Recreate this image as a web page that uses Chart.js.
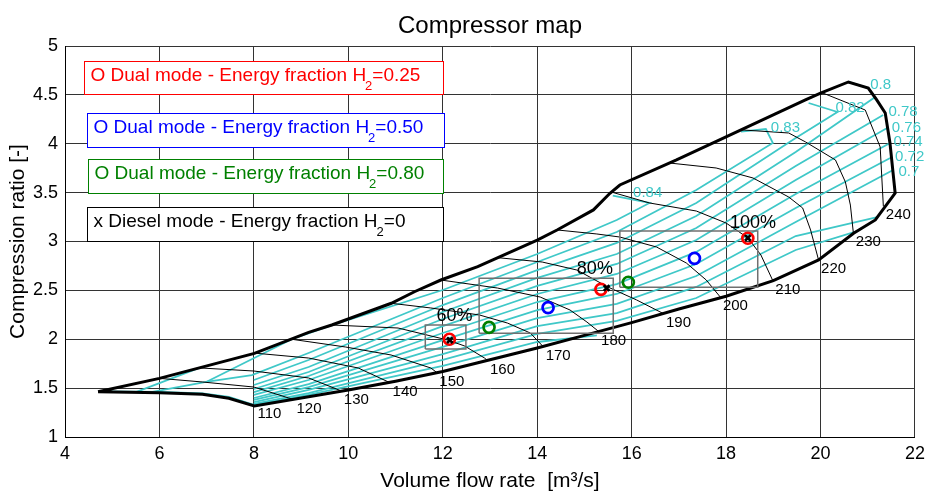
<!DOCTYPE html>
<html>
<head>
<meta charset="utf-8">
<title>Compressor map</title>
<script src="https://cdn.jsdelivr.net/npm/chart.js@4.4.0/dist/chart.umd.min.js"></script>
<style>
  html, body { margin: 0; padding: 0; background: #fff; }
</style>
</head>
<body>
<canvas id="mapa" width="931" height="495"></canvas>
<script>
// Contorno do mapa: linha de surge, borda direita, linha de choke e linha de 110
const contorno = [
  [4.70, 1.463], [6.0, 1.60], [8.01, 1.856], [9.16, 2.071], [9.65, 2.146], [10.91, 2.368],
  [11.40, 2.486], [11.96, 2.606], [12.74, 2.742], [14.0, 3.015], [14.42, 3.118], [15.19, 3.323],
  [15.54, 3.493], [15.75, 3.578], [16.95, 3.834], [17.93, 4.056], [19.68, 4.448], [20.0, 4.519],
  [20.59, 4.632], [21.01, 4.570], [21.19, 4.448], [21.37, 4.315], [21.47, 4.008], [21.58, 3.496],
  [21.16, 3.22], [20.70, 3.084], [19.96, 2.811], [19.0, 2.60], [18.0, 2.44], [17.0, 2.31],
  [16.0, 2.17], [15.0, 2.04], [14.0, 1.91], [13.0, 1.79], [12.0, 1.67], [11.0, 1.57],
  [10.0, 1.48], [8.01, 1.317], [7.47, 1.396], [6.91, 1.437], [6.0, 1.453], [4.70, 1.463]
];

// Linhas de rotação (a de 110 é o trecho inferior do contorno)
const rotacoes = [120, 130, 140, 150, 160, 170, 180, 190, 200, 210, 220, 230, 240];
const curvasRotacao = [
  [[6.0, 1.60], [6.905, 1.563], [8.0, 1.511], [8.737, 1.399], [8.85, 1.385]],
  [[6.842, 1.707], [8.0, 1.675], [9.158, 1.604], [9.853, 1.471]],
  [[8.02, 1.858], [9.158, 1.808], [10.21, 1.706], [10.884, 1.555]],
  [[8.8, 2.0], [9.937, 1.921], [10.905, 1.839], [11.747, 1.706], [11.874, 1.66]],
  [[9.642, 2.146], [11.053, 2.115], [12.105, 1.992], [12.463, 1.931], [12.884, 1.808], [12.947, 1.782]],
  [[10.905, 2.368], [11.747, 2.320], [12.779, 2.248], [13.368, 2.166], [13.853, 2.064], [14.126, 1.925]],
  [[11.958, 2.606], [13.158, 2.524], [14.063, 2.432], [14.695, 2.299], [15.053, 2.176], [15.3, 2.08]],
  [[13.158, 2.835], [14.105, 2.790], [14.842, 2.708], [15.495, 2.535], [16.105, 2.402], [16.674, 2.262]],
  [[14.421, 3.118], [15.263, 3.077], [15.747, 3.046], [16.526, 2.944], [17.158, 2.780], [17.579, 2.606], [17.88, 2.43]],
  [[15.579, 3.505], [16.379, 3.394], [17.368, 3.312], [18.0, 3.189], [18.463, 3.036], [18.737, 2.862], [18.989, 2.60]],
  [[16.8, 3.803], [17.789, 3.752], [18.568, 3.650], [19.326, 3.455], [19.621, 3.343], [19.789, 3.118], [19.958, 2.811]],
  [[18.316, 4.142], [19.326, 4.110], [19.684, 4.018], [20.316, 3.834], [20.526, 3.609], [20.632, 3.373], [20.695, 3.087]],
  [[20.042, 4.52], [20.947, 4.345], [21.263, 3.967], [21.33, 3.36]]
];

// Curvas de rendimento isentrópico
const curvasRendimento = [
  [[6.989, 1.563], [8.8, 2.0], [9.684, 2.15], [12.0, 2.504], [14.0, 2.872], [15.684, 3.22], [16.379, 3.394], [15.6, 3.47]],
  [[6.989, 1.563], [7.958, 1.634], [9.158, 1.859], [12.0, 2.422], [14.0, 2.790], [15.684, 3.097], [17.368, 3.527], [18.989, 4.008], [18.842, 4.151], [18.316, 4.124]],
  [[8.0, 1.583], [9.158, 1.788], [12.0, 2.350], [14.0, 2.708], [15.684, 2.985], [17.368, 3.394], [19.474, 4.059], [20.358, 4.325], [19.747, 4.417]],
  [[8.0, 1.532], [9.158, 1.716], [12.0, 2.279], [14.0, 2.627], [15.684, 2.872], [17.368, 3.261], [19.474, 3.916], [21.158, 4.478], [21.011, 4.570], [20.589, 4.632]],
  [[8.0, 1.491], [9.158, 1.665], [12.0, 2.207], [14.0, 2.545], [15.684, 2.770], [17.368, 3.138], [19.474, 3.772], [21.326, 4.294]],
  [[8.0, 1.460], [9.158, 1.624], [12.0, 2.135], [14.0, 2.463], [15.684, 2.668], [17.368, 3.015], [19.474, 3.629], [21.411, 4.161]],
  [[8.0, 1.430], [9.158, 1.583], [12.0, 2.064], [14.0, 2.381], [15.684, 2.565], [17.368, 2.893], [19.474, 3.486], [21.474, 4.008]],
  [[8.0, 1.399], [9.158, 1.542], [12.0, 1.992], [14.0, 2.299], [15.684, 2.463], [17.368, 2.770], [19.474, 3.343], [21.516, 3.864]],
  [[8.0, 1.379], [9.158, 1.511], [12.0, 1.921], [14.0, 2.217], [15.684, 2.361], [17.368, 2.647], [19.474, 3.200], [21.537, 3.731]],
  [[8.0, 1.358], [9.158, 1.481], [12.0, 1.849], [14.0, 2.135], [15.684, 2.268], [17.368, 2.535], [19.474, 3.056], [21.2, 3.25]],
  [[8.0, 1.338], [9.158, 1.450], [12.0, 1.788], [14.0, 2.054], [15.684, 2.187], [17.368, 2.422], [19.474, 2.913], [20.779, 3.107]],
  [[8.0, 1.327], [9.158, 1.430], [12.0, 1.727], [14.0, 1.972], [15.263, 2.04]],
  [[8.0, 1.33], [7.47, 1.41], [6.91, 1.447], [6.0, 1.462], [4.75, 1.466]],
  [[6.842, 1.707], [5.516, 1.462]],
  [[6.989, 1.563], [5.853, 1.462]]
];
const rotulosRendimento = ['0.84', '0.83', '0.82', '0.8', '0.78', '0.76', '0.74', '0.72', '0.7'];
const posRotulosRendimento = [
  [16.03, 3.493], [18.947, 4.158], [20.316, 4.363], [21.053, 4.601], [21.438, 4.328],
  [21.51, 4.158], [21.543, 4.021], [21.579, 3.868], [21.649, 3.714]
];

// Pontos de operação
const dual025 = [[12.14, 2.0], [15.35, 2.511], [18.46, 3.033]];
const dual050 = [[14.23, 2.323], [17.33, 2.828]];
const dual080 = [[12.98, 2.122], [15.93, 2.583]];
const diesel = [[12.15, 1.99], [15.47, 2.524], [18.46, 3.036]];

// Caixas de carga: xmin, xmax, ymin, ymax
const cargas = ['60%', '80%', '100%'];
const caixasCarga = [[11.63, 12.49, 1.90, 2.146], [12.77, 15.61, 2.061, 2.624], [15.75, 18.67, 2.532, 3.107]];
const posCargas = [[12.246, 2.238], [15.221, 2.719], [18.568, 3.189]];

const FONTE = '"Liberation Sans", Arial, Helvetica, sans-serif';
const TEAL = '#3fc8c8';

const pts = arr => arr.map(([x, y]) => ({ x, y }));

function linha(dados, cor, largura, order) {
  return {
    data: pts(dados),
    showLine: true,
    borderColor: cor,
    borderWidth: largura,
    pointRadius: 0,
    fill: false,
    tension: 0,
    order
  };
}

function marcador(dados, cor, estilo, raio, order) {
  return {
    data: pts(dados),
    showLine: false,
    pointStyle: estilo,
    pointRadius: raio,
    pointBorderColor: cor,
    pointBackgroundColor: 'transparent',
    pointBorderWidth: 2.7,
    order
  };
}

const datasets = [];
curvasRendimento.forEach(c => datasets.push(linha(c, TEAL, 1.8, 5)));
curvasRotacao.forEach(c => datasets.push(linha(c, '#000', 1, 4)));
datasets.push(linha(contorno, '#000', 3, 3));
caixasCarga.forEach(([x0, x1, y0, y1]) =>
  datasets.push(linha([[x0, y0], [x1, y0], [x1, y1], [x0, y1], [x0, y0]], '#707070', 1.5, 2)));
datasets.push(marcador(dual025, '#ff0000', 'circle', 5.5, 1));
datasets.push(marcador(dual050, '#0000ff', 'circle', 5.5, 1));
datasets.push(marcador(dual080, '#008000', 'circle', 5.5, 1));
datasets.push(marcador(diesel, '#000', 'crossRot', 4, 0));

// Caixas de texto da legenda (px)
const legendas = [
  { pre: 'O Dual mode - Energy fraction H', pos: '=0.25', cor: '#ff0000', x: 84, y: 61, w: 359, h: 33 },
  { pre: 'O Dual mode - Energy fraction H', pos: '=0.50', cor: '#0000ff', x: 87, y: 113, w: 357, h: 34 },
  { pre: 'O Dual mode - Energy fraction H', pos: '=0.80', cor: '#008000', x: 88, y: 159, w: 355, h: 34 },
  { pre: 'x Diesel mode - Energy fraction H', pos: '=0', cor: '#000000', x: 87, y: 207, w: 356, h: 34 }
];

const anotacoes = {
  id: 'anotacoes',
  afterDraw(chart) {
    const { ctx, chartArea: a, scales: { x, y } } = chart;
    const px = v => x.getPixelForValue(v);
    const py = v => y.getPixelForValue(v);
    ctx.save();

    // titulo
    ctx.fillStyle = '#000';
    ctx.font = '24px ' + FONTE;
    ctx.textAlign = 'center';
    ctx.textBaseline = 'alphabetic';
    ctx.fillText('Compressor map', (a.left + a.right) / 2, 33);

    // rotulos de rotação
    ctx.font = '15px ' + FONTE;
    ctx.textBaseline = 'middle';
    const p110 = contorno[37];
    ctx.fillText('110', px(p110[0]) + 15, py(p110[1]) + 8);
    curvasRotacao.forEach((c, i) => {
      const [lx, ly] = c[c.length - 1];
      ctx.fillText(String(rotacoes[i]), px(lx) + 15, py(ly) + 9);
    });

    // rotulos de rendimento
    ctx.fillStyle = TEAL;
    ctx.textAlign = 'left';
    rotulosRendimento.forEach((t, i) => {
      const [lx, ly] = posRotulosRendimento[i];
      ctx.fillText(t, px(lx), py(ly));
    });

    // cargas
    ctx.fillStyle = '#000';
    ctx.textAlign = 'center';
    ctx.font = '18px ' + FONTE;
    cargas.forEach((t, i) => {
      const [lx, ly] = posCargas[i];
      ctx.fillText(t, px(lx), py(ly));
    });

    // legenda
    ctx.textAlign = 'left';
    ctx.textBaseline = 'alphabetic';
    legendas.forEach(l => {
      ctx.fillStyle = '#fff';
      ctx.fillRect(l.x, l.y, l.w, l.h);
      ctx.strokeStyle = l.cor;
      ctx.lineWidth = 1;
      ctx.strokeRect(l.x + 0.5, l.y + 0.5, l.w, l.h);
      ctx.fillStyle = l.cor;
      let tx = l.x + 6.5;
      const base = l.y + 20;
      ctx.font = '19px ' + FONTE;
      ctx.fillText(l.pre, tx, base);
      tx += ctx.measureText(l.pre).width - 1;
      ctx.font = '13px ' + FONTE;
      ctx.fillText('2', tx, base + 9);
      tx += ctx.measureText('2').width;
      ctx.font = '19px ' + FONTE;
      ctx.fillText(l.pos, tx, base);
    });

    ctx.restore();
  }
};

new Chart(document.getElementById('mapa'), {
  type: 'scatter',
  data: { datasets },
  options: {
    responsive: false,
    animation: false,
    layout: { padding: { top: 46, right: 11, left: 0, bottom: 0 } },
    plugins: {
      legend: { display: false },
      tooltip: { enabled: false },
      title: { display: false }
    },
    scales: {
      x: {
        type: 'linear',
        min: 4,
        max: 22,
        ticks: { stepSize: 2, color: '#000', padding: 6, maxRotation: 0, font: { size: 18, family: FONTE } },
        grid: { color: '#333', drawTicks: false },
        border: { color: '#000' },
        title: {
          display: true,
          text: 'Volume flow rate  [m³/s]',
          color: '#000',
          font: { size: 21, family: FONTE },
          padding: { top: 0, bottom: 1 }
        },
        afterFit: s => { s.height = 58; }
      },
      y: {
        type: 'linear',
        min: 1,
        max: 5,
        ticks: {
          stepSize: 0.5,
          color: '#000',
          padding: 7,
          font: { size: 18, family: FONTE },
          callback: v => String(v)
        },
        grid: { color: '#333', drawTicks: false },
        border: { color: '#000' },
        title: {
          display: true,
          text: 'Compression ratio [-]',
          color: '#000',
          font: { size: 21, family: FONTE },
          padding: { top: 6, bottom: 0 }
        },
        afterFit: s => { s.width = 65; }
      }
    }
  },
  plugins: [anotacoes]
});
</script>
</body>
</html>
